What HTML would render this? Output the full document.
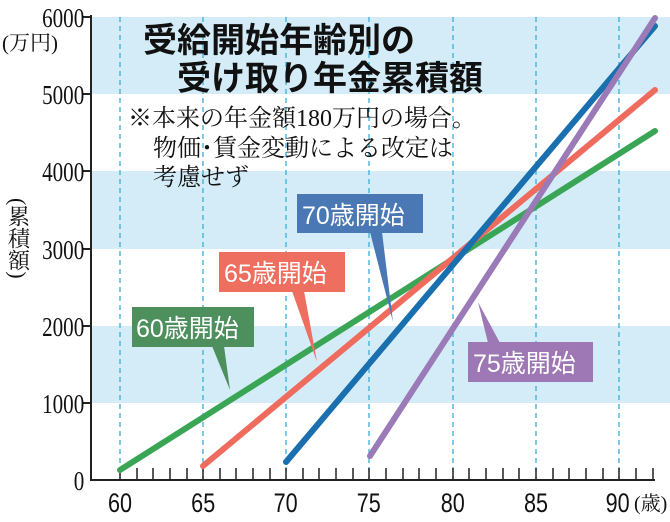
<!DOCTYPE html>
<html><head><meta charset="utf-8"><style>
html,body{margin:0;padding:0;background:#fff;}
svg{display:block}
.ser{font-family:"Liberation Serif","Noto Serif CJK SC",serif;}
.san{font-family:"Liberation Sans","Noto Sans CJK JP",sans-serif;}
</style></head><body>
<svg width="670" height="522" viewBox="0 0 670 522" xmlns="http://www.w3.org/2000/svg">
<rect x="91" y="17" width="579" height="77" fill="#d4ecf8"/>
<rect x="91" y="171" width="579" height="78" fill="#d4ecf8"/>
<rect x="91" y="326" width="579" height="77" fill="#d4ecf8"/>
<g stroke="#3aaed6" stroke-width="1.3" stroke-dasharray="5,4">
<line x1="120" y1="17" x2="120" y2="480"/><line x1="203" y1="17" x2="203" y2="480"/>
<line x1="286" y1="17" x2="286" y2="480"/><line x1="369" y1="17" x2="369" y2="480"/>
<line x1="453" y1="17" x2="453" y2="480"/><line x1="536" y1="17" x2="536" y2="480"/>
<line x1="619" y1="17" x2="619" y2="480"/>
</g>
<g stroke="#222" stroke-width="2">
<line x1="91" y1="15" x2="91" y2="481"/><line x1="90" y1="480" x2="655" y2="480"/>
<line x1="82" y1="17" x2="91" y2="17"/><line x1="82" y1="94" x2="91" y2="94"/>
<line x1="82" y1="171" x2="91" y2="171"/><line x1="82" y1="249" x2="91" y2="249"/>
<line x1="82" y1="326" x2="91" y2="326"/><line x1="82" y1="403" x2="91" y2="403"/>
</g>
<g stroke="#222" stroke-width="1.5">
<path d="M120 468V480M137 468V480M153 468V480M170 468V480M187 468V480M203 468V480M220 468V480M236 468V480M253 468V480M270 468V480M286 468V480M303 468V480M319 468V480M336 468V480M353 468V480M369 468V480M386 468V480M403 468V480M419 468V480M436 468V480M453 468V480M469 468V480M486 468V480M503 468V480M519 468V480M536 468V480M553 468V480M569 468V480M586 468V480M603 468V480M619 468V480M636 468V480M653 468V480"/>
</g>
<g class="ser" font-size="27" fill="#111" text-anchor="end" transform="scale(0.78,1)">
<text x="108" y="27">6000</text><text x="108" y="104">5000</text><text x="108" y="181">4000</text>
<text x="108" y="259">3000</text><text x="108" y="336">2000</text><text x="108" y="413">1000</text>
<text x="108" y="490">0</text>
</g>
<text class="ser" x="2" y="50" font-size="21" fill="#111">(万円)</text>
<text class="ser" font-size="22" fill="#111" writing-mode="tb" x="18" y="198">(累積額)</text>
<g class="san" font-size="27" fill="#111" text-anchor="middle" transform="scale(0.8,1)">
<text x="150" y="512">60</text><text x="254" y="512">65</text><text x="357" y="512">70</text>
<text x="461" y="512">75</text><text x="566" y="512">80</text><text x="670" y="512">85</text>
<text x="772" y="512">90</text>
</g>
<text class="ser" x="634" y="510" font-size="20" fill="#111">(歳)</text>
<g stroke-width="6" stroke-linecap="round">
<line x1="120" y1="470" x2="655" y2="131" stroke="#3aa655"/>
<line x1="203" y1="466" x2="655" y2="90" stroke="#ee6b5e"/>
<line x1="286" y1="462" x2="655" y2="26" stroke="#1a6faf"/>
<line x1="370" y1="456" x2="655" y2="18" stroke="#9b7ab8"/>
</g>
<g class="san" font-size="25" fill="#fff">
<polygon points="370,232 382,232 393,322" fill="#4a78b5"/>
<rect x="297" y="194" width="126" height="39" fill="#4a78b5"/><text x="302" y="224">70歳開始</text>
<polygon points="292,291 304,291 317,362" fill="#ee6e60"/>
<rect x="219" y="252" width="126" height="40" fill="#ee6e60"/><text x="224" y="282">65歳開始</text>
<polygon points="212,346 224,346 230,390" fill="#4e8f5e"/>
<rect x="132" y="307" width="122" height="40" fill="#4e8f5e"/><text x="136" y="337">60歳開始</text>
<polygon points="478,302 488,343 500,343" fill="#9e78b5"/>
<rect x="468" y="342" width="125" height="40" fill="#9e78b5"/><text x="473" y="372">75歳開始</text>
</g>
<g class="san" font-size="34" font-weight="bold" fill="#111">
<text x="143" y="52">受給開始年齢別の</text>
<text x="177" y="90">受け取り年金累積額</text>
</g>
<g class="ser" font-size="24" fill="#111">
<text x="128" y="126">※本来の年金額180万円の場合。</text>
<text x="153" y="156">物価･賃金変動による改定は</text>
<text x="153" y="185">考慮せず</text>
</g>
</svg>
</body></html>
